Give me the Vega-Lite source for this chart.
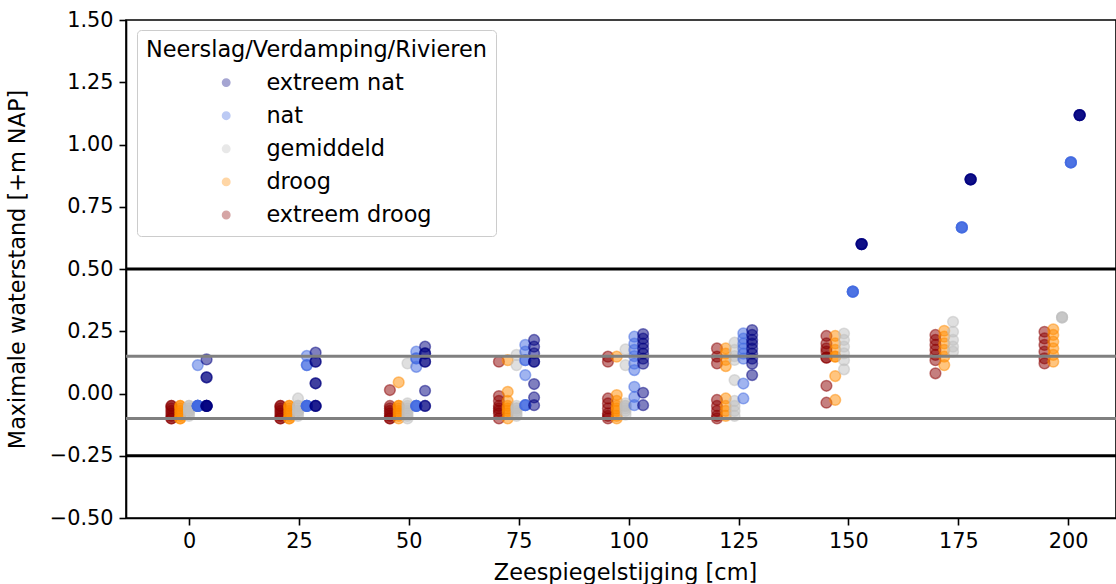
{
  "$schema": "https://vega.github.io/schema/vega-lite/v6.json",
  "autosize": "none",
  "width": 990,
  "height": 498,
  "padding": {"left": 126, "top": 20, "right": 0, "bottom": 66},
  "background": "white",
  "config": {
    "font": "DejaVu Sans",
    "view": {"stroke": "black", "strokeWidth": 1.6},
    "axis": {"labelFont": "DejaVu Sans", "titleFont": "DejaVu Sans", "labelFontSize": 20.8, "titleFontSize": 22.4, "titleFontWeight": "normal", "labelColor": "black", "titleColor": "black", "tickColor": "black", "domainColor": "black", "tickSize": 7, "tickWidth": 1.6, "domainWidth": 1.6, "labelPadding": 6, "grid": false},
    "legend": {"labelFont": "DejaVu Sans", "titleFont": "DejaVu Sans"}
  },
  "datasets": {
    "pts": [
      {"x": -4, "y": -0.05, "c": "extreem droog"}, {"x": -4, "y": -0.06, "c": "extreem droog"}, {"x": -4, "y": -0.07, "c": "extreem droog"}, {"x": -4, "y": -0.08, "c": "extreem droog"}, {"x": -4, "y": -0.09, "c": "extreem droog"}, {"x": -4, "y": -0.1, "c": "extreem droog"}, {"x": -4, "y": -0.05, "c": "extreem droog"}, {"x": -4, "y": -0.1, "c": "extreem droog"},
      {"x": -2, "y": -0.05, "c": "droog"}, {"x": -2, "y": -0.06, "c": "droog"}, {"x": -2, "y": -0.07, "c": "droog"}, {"x": -2, "y": -0.08, "c": "droog"}, {"x": -2, "y": -0.09, "c": "droog"}, {"x": -2, "y": -0.1, "c": "droog"}, {"x": -2, "y": -0.05, "c": "droog"}, {"x": -2, "y": -0.1, "c": "droog"},
      {"x": 0, "y": -0.05, "c": "gemiddeld"}, {"x": 0, "y": -0.06, "c": "gemiddeld"}, {"x": 0, "y": -0.07, "c": "gemiddeld"}, {"x": 0, "y": -0.08, "c": "gemiddeld"}, {"x": 0, "y": -0.09, "c": "gemiddeld"}, {"x": 0, "y": -0.05, "c": "gemiddeld"}, {"x": 0, "y": -0.06, "c": "gemiddeld"}, {"x": 0, "y": -0.07, "c": "gemiddeld"},
      {"x": 2, "y": 0.114, "c": "nat"}, {"x": 2, "y": -0.05, "c": "nat"}, {"x": 2, "y": -0.05, "c": "nat"}, {"x": 2, "y": -0.05, "c": "nat"}, {"x": 2, "y": -0.05, "c": "nat"}, {"x": 2, "y": -0.05, "c": "nat"}, {"x": 2, "y": -0.05, "c": "nat"}, {"x": 2, "y": -0.05, "c": "nat"},
      {"x": 4, "y": 0.137, "c": "extreem nat"}, {"x": 4, "y": 0.065, "c": "extreem nat"}, {"x": 4, "y": 0.065, "c": "extreem nat"}, {"x": 4, "y": -0.05, "c": "extreem nat"}, {"x": 4, "y": -0.05, "c": "extreem nat"}, {"x": 4, "y": -0.05, "c": "extreem nat"}, {"x": 4, "y": -0.05, "c": "extreem nat"}, {"x": 4, "y": -0.05, "c": "extreem nat"},

      {"x": 20.8, "y": -0.05, "c": "extreem droog"}, {"x": 20.8, "y": -0.06, "c": "extreem droog"}, {"x": 20.8, "y": -0.07, "c": "extreem droog"}, {"x": 20.8, "y": -0.08, "c": "extreem droog"}, {"x": 20.8, "y": -0.09, "c": "extreem droog"}, {"x": 20.8, "y": -0.1, "c": "extreem droog"}, {"x": 20.8, "y": -0.05, "c": "extreem droog"}, {"x": 20.8, "y": -0.1, "c": "extreem droog"},
      {"x": 22.8, "y": -0.05, "c": "droog"}, {"x": 22.8, "y": -0.06, "c": "droog"}, {"x": 22.8, "y": -0.07, "c": "droog"}, {"x": 22.8, "y": -0.08, "c": "droog"}, {"x": 22.8, "y": -0.09, "c": "droog"}, {"x": 22.8, "y": -0.1, "c": "droog"}, {"x": 22.8, "y": -0.05, "c": "droog"}, {"x": 22.8, "y": -0.1, "c": "droog"},
      {"x": 24.8, "y": -0.02, "c": "gemiddeld"}, {"x": 24.8, "y": -0.05, "c": "gemiddeld"}, {"x": 24.8, "y": -0.06, "c": "gemiddeld"}, {"x": 24.8, "y": -0.07, "c": "gemiddeld"}, {"x": 24.8, "y": -0.08, "c": "gemiddeld"}, {"x": 24.8, "y": -0.09, "c": "gemiddeld"}, {"x": 24.8, "y": -0.05, "c": "gemiddeld"}, {"x": 24.8, "y": -0.07, "c": "gemiddeld"},
      {"x": 26.8, "y": 0.151, "c": "nat"}, {"x": 26.8, "y": 0.114, "c": "nat"}, {"x": 26.8, "y": 0.114, "c": "nat"}, {"x": 26.8, "y": -0.05, "c": "nat"}, {"x": 26.8, "y": -0.05, "c": "nat"}, {"x": 26.8, "y": -0.05, "c": "nat"}, {"x": 26.8, "y": -0.05, "c": "nat"}, {"x": 26.8, "y": -0.05, "c": "nat"},
      {"x": 28.8, "y": 0.164, "c": "extreem nat"}, {"x": 28.8, "y": 0.128, "c": "extreem nat"}, {"x": 28.8, "y": 0.128, "c": "extreem nat"}, {"x": 28.8, "y": 0.041, "c": "extreem nat"}, {"x": 28.8, "y": 0.041, "c": "extreem nat"}, {"x": 28.8, "y": -0.05, "c": "extreem nat"}, {"x": 28.8, "y": -0.05, "c": "extreem nat"}, {"x": 28.8, "y": -0.05, "c": "extreem nat"},

      {"x": 45.7, "y": 0.014, "c": "extreem droog"}, {"x": 45.7, "y": -0.05, "c": "extreem droog"}, {"x": 45.7, "y": -0.06, "c": "extreem droog"}, {"x": 45.7, "y": -0.07, "c": "extreem droog"}, {"x": 45.7, "y": -0.08, "c": "extreem droog"}, {"x": 45.7, "y": -0.09, "c": "extreem droog"}, {"x": 45.7, "y": -0.1, "c": "extreem droog"}, {"x": 45.7, "y": -0.1, "c": "extreem droog"},
      {"x": 47.7, "y": 0.045, "c": "droog"}, {"x": 47.7, "y": -0.05, "c": "droog"}, {"x": 47.7, "y": -0.06, "c": "droog"}, {"x": 47.7, "y": -0.07, "c": "droog"}, {"x": 47.7, "y": -0.08, "c": "droog"}, {"x": 47.7, "y": -0.09, "c": "droog"}, {"x": 47.7, "y": -0.1, "c": "droog"}, {"x": 47.7, "y": -0.05, "c": "droog"},
      {"x": 49.7, "y": 0.121, "c": "gemiddeld"}, {"x": 49.7, "y": -0.04, "c": "gemiddeld"}, {"x": 49.7, "y": -0.05, "c": "gemiddeld"}, {"x": 49.7, "y": -0.06, "c": "gemiddeld"}, {"x": 49.7, "y": -0.07, "c": "gemiddeld"}, {"x": 49.7, "y": -0.08, "c": "gemiddeld"}, {"x": 49.7, "y": -0.09, "c": "gemiddeld"}, {"x": 49.7, "y": -0.1, "c": "gemiddeld"},
      {"x": 51.7, "y": 0.168, "c": "nat"}, {"x": 51.7, "y": 0.141, "c": "nat"}, {"x": 51.7, "y": 0.141, "c": "nat"}, {"x": 51.7, "y": 0.107, "c": "nat"}, {"x": 51.7, "y": -0.05, "c": "nat"}, {"x": 51.7, "y": -0.05, "c": "nat"}, {"x": 51.7, "y": -0.05, "c": "nat"}, {"x": 51.7, "y": -0.05, "c": "nat"},
      {"x": 53.7, "y": 0.188, "c": "extreem nat"}, {"x": 53.7, "y": 0.161, "c": "extreem nat"}, {"x": 53.7, "y": 0.161, "c": "extreem nat"}, {"x": 53.7, "y": 0.128, "c": "extreem nat"}, {"x": 53.7, "y": 0.128, "c": "extreem nat"}, {"x": 53.7, "y": 0.011, "c": "extreem nat"}, {"x": 53.7, "y": -0.05, "c": "extreem nat"}, {"x": 53.7, "y": -0.05, "c": "extreem nat"},

      {"x": 70.5, "y": 0.128, "c": "extreem droog"}, {"x": 70.5, "y": -0.01, "c": "extreem droog"}, {"x": 70.5, "y": -0.03, "c": "extreem droog"}, {"x": 70.5, "y": -0.05, "c": "extreem droog"}, {"x": 70.5, "y": -0.06, "c": "extreem droog"}, {"x": 70.5, "y": -0.07, "c": "extreem droog"}, {"x": 70.5, "y": -0.08, "c": "extreem droog"}, {"x": 70.5, "y": -0.1, "c": "extreem droog"},
      {"x": 72.5, "y": 0.134, "c": "droog"}, {"x": 72.5, "y": 0.007, "c": "droog"}, {"x": 72.5, "y": -0.03, "c": "droog"}, {"x": 72.5, "y": -0.05, "c": "droog"}, {"x": 72.5, "y": -0.06, "c": "droog"}, {"x": 72.5, "y": -0.07, "c": "droog"}, {"x": 72.5, "y": -0.08, "c": "droog"}, {"x": 72.5, "y": -0.1, "c": "droog"},
      {"x": 74.5, "y": 0.155, "c": "gemiddeld"}, {"x": 74.5, "y": 0.114, "c": "gemiddeld"}, {"x": 74.5, "y": -0.05, "c": "gemiddeld"}, {"x": 74.5, "y": -0.06, "c": "gemiddeld"}, {"x": 74.5, "y": -0.07, "c": "gemiddeld"}, {"x": 74.5, "y": -0.08, "c": "gemiddeld"}, {"x": 74.5, "y": -0.09, "c": "gemiddeld"}, {"x": 74.5, "y": -0.06, "c": "gemiddeld"},
      {"x": 76.5, "y": 0.195, "c": "nat"}, {"x": 76.5, "y": 0.168, "c": "nat"}, {"x": 76.5, "y": 0.134, "c": "nat"}, {"x": 76.5, "y": 0.134, "c": "nat"}, {"x": 76.5, "y": 0.074, "c": "nat"}, {"x": 76.5, "y": -0.047, "c": "nat"}, {"x": 76.5, "y": -0.047, "c": "nat"}, {"x": 76.5, "y": -0.047, "c": "nat"},
      {"x": 78.5, "y": 0.215, "c": "extreem nat"}, {"x": 78.5, "y": 0.188, "c": "extreem nat"}, {"x": 78.5, "y": 0.161, "c": "extreem nat"}, {"x": 78.5, "y": 0.128, "c": "extreem nat"}, {"x": 78.5, "y": 0.128, "c": "extreem nat"}, {"x": 78.5, "y": 0.038, "c": "extreem nat"}, {"x": 78.5, "y": -0.016, "c": "extreem nat"}, {"x": 78.5, "y": -0.047, "c": "extreem nat"},

      {"x": 95.3, "y": 0.148, "c": "extreem droog"}, {"x": 95.3, "y": 0.128, "c": "extreem droog"}, {"x": 95.3, "y": -0.02, "c": "extreem droog"}, {"x": 95.3, "y": -0.04, "c": "extreem droog"}, {"x": 95.3, "y": -0.06, "c": "extreem droog"}, {"x": 95.3, "y": -0.08, "c": "extreem droog"}, {"x": 95.3, "y": -0.1, "c": "extreem droog"}, {"x": 95.3, "y": -0.09, "c": "extreem droog"},
      {"x": 97.3, "y": 0.148, "c": "droog"}, {"x": 97.3, "y": -0.006, "c": "droog"}, {"x": 97.3, "y": -0.03, "c": "droog"}, {"x": 97.3, "y": -0.05, "c": "droog"}, {"x": 97.3, "y": -0.07, "c": "droog"}, {"x": 97.3, "y": -0.09, "c": "droog"}, {"x": 97.3, "y": -0.1, "c": "droog"}, {"x": 97.3, "y": -0.06, "c": "droog"},
      {"x": 99.3, "y": 0.177, "c": "gemiddeld"}, {"x": 99.3, "y": 0.114, "c": "gemiddeld"}, {"x": 99.3, "y": -0.04, "c": "gemiddeld"}, {"x": 99.3, "y": -0.05, "c": "gemiddeld"}, {"x": 99.3, "y": -0.06, "c": "gemiddeld"}, {"x": 99.3, "y": -0.07, "c": "gemiddeld"}, {"x": 99.3, "y": -0.085, "c": "gemiddeld"}, {"x": 99.3, "y": -0.05, "c": "gemiddeld"},
      {"x": 101.3, "y": 0.228, "c": "nat"}, {"x": 101.3, "y": 0.2, "c": "nat"}, {"x": 101.3, "y": 0.175, "c": "nat"}, {"x": 101.3, "y": 0.15, "c": "nat"}, {"x": 101.3, "y": 0.12, "c": "nat"}, {"x": 101.3, "y": 0.094, "c": "nat"}, {"x": 101.3, "y": 0.027, "c": "nat"}, {"x": 101.3, "y": -0.014, "c": "nat"}, {"x": 101.3, "y": -0.047, "c": "nat"},
      {"x": 103.3, "y": 0.239, "c": "extreem nat"}, {"x": 103.3, "y": 0.22, "c": "extreem nat"}, {"x": 103.3, "y": 0.2, "c": "extreem nat"}, {"x": 103.3, "y": 0.18, "c": "extreem nat"}, {"x": 103.3, "y": 0.16, "c": "extreem nat"}, {"x": 103.3, "y": 0.14, "c": "extreem nat"}, {"x": 103.3, "y": 0.12, "c": "extreem nat"}, {"x": 103.3, "y": 0.003, "c": "extreem nat"}, {"x": 103.3, "y": -0.047, "c": "extreem nat"},

      {"x": 120.1, "y": 0.181, "c": "extreem droog"}, {"x": 120.1, "y": 0.148, "c": "extreem droog"}, {"x": 120.1, "y": 0.121, "c": "extreem droog"}, {"x": 120.1, "y": -0.026, "c": "extreem droog"}, {"x": 120.1, "y": -0.05, "c": "extreem droog"}, {"x": 120.1, "y": -0.07, "c": "extreem droog"}, {"x": 120.1, "y": -0.09, "c": "extreem droog"}, {"x": 120.1, "y": -0.1, "c": "extreem droog"},
      {"x": 122.1, "y": 0.181, "c": "droog"}, {"x": 122.1, "y": 0.16, "c": "droog"}, {"x": 122.1, "y": 0.135, "c": "droog"}, {"x": 122.1, "y": 0.11, "c": "droog"}, {"x": 122.1, "y": -0.02, "c": "droog"}, {"x": 122.1, "y": -0.05, "c": "droog"}, {"x": 122.1, "y": -0.07, "c": "droog"}, {"x": 122.1, "y": -0.09, "c": "droog"},
      {"x": 124.1, "y": 0.204, "c": "gemiddeld"}, {"x": 124.1, "y": 0.175, "c": "gemiddeld"}, {"x": 124.1, "y": 0.15, "c": "gemiddeld"}, {"x": 124.1, "y": 0.135, "c": "gemiddeld"}, {"x": 124.1, "y": 0.054, "c": "gemiddeld"}, {"x": 124.1, "y": -0.03, "c": "gemiddeld"}, {"x": 124.1, "y": -0.05, "c": "gemiddeld"}, {"x": 124.1, "y": -0.07, "c": "gemiddeld"}, {"x": 124.1, "y": -0.09, "c": "gemiddeld"},
      {"x": 126.1, "y": 0.242, "c": "nat"}, {"x": 126.1, "y": 0.22, "c": "nat"}, {"x": 126.1, "y": 0.2, "c": "nat"}, {"x": 126.1, "y": 0.18, "c": "nat"}, {"x": 126.1, "y": 0.16, "c": "nat"}, {"x": 126.1, "y": 0.14, "c": "nat"}, {"x": 126.1, "y": 0.04, "c": "nat"}, {"x": 126.1, "y": -0.02, "c": "nat"},
      {"x": 128.1, "y": 0.255, "c": "extreem nat"}, {"x": 128.1, "y": 0.235, "c": "extreem nat"}, {"x": 128.1, "y": 0.215, "c": "extreem nat"}, {"x": 128.1, "y": 0.2, "c": "extreem nat"}, {"x": 128.1, "y": 0.18, "c": "extreem nat"}, {"x": 128.1, "y": 0.16, "c": "extreem nat"}, {"x": 128.1, "y": 0.14, "c": "extreem nat"}, {"x": 128.1, "y": 0.12, "c": "extreem nat"}, {"x": 128.1, "y": 0.074, "c": "extreem nat"},

      {"x": 145.0, "y": 0.231, "c": "extreem droog"}, {"x": 145.0, "y": 0.201, "c": "extreem droog"}, {"x": 145.0, "y": 0.181, "c": "extreem droog"}, {"x": 145.0, "y": 0.168, "c": "extreem droog"}, {"x": 145.0, "y": 0.144, "c": "extreem droog"}, {"x": 145.0, "y": 0.144, "c": "extreem droog"}, {"x": 145.0, "y": 0.031, "c": "extreem droog"}, {"x": 145.0, "y": -0.037, "c": "extreem droog"},
      {"x": 147.0, "y": 0.231, "c": "droog"}, {"x": 147.0, "y": 0.201, "c": "droog"}, {"x": 147.0, "y": 0.175, "c": "droog"}, {"x": 147.0, "y": 0.148, "c": "droog"}, {"x": 147.0, "y": 0.148, "c": "droog"}, {"x": 147.0, "y": 0.07, "c": "droog"}, {"x": 147.0, "y": -0.026, "c": "droog"},
      {"x": 149.0, "y": 0.241, "c": "gemiddeld"}, {"x": 149.0, "y": 0.215, "c": "gemiddeld"}, {"x": 149.0, "y": 0.188, "c": "gemiddeld"}, {"x": 149.0, "y": 0.161, "c": "gemiddeld"}, {"x": 149.0, "y": 0.134, "c": "gemiddeld"}, {"x": 149.0, "y": 0.097, "c": "gemiddeld"},
      {"x": 151.0, "y": 0.409, "c": "nat"}, {"x": 151.0, "y": 0.409, "c": "nat"}, {"x": 151.0, "y": 0.409, "c": "nat"}, {"x": 151.0, "y": 0.409, "c": "nat"},
      {"x": 153.0, "y": 0.6, "c": "extreem nat"}, {"x": 153.0, "y": 0.6, "c": "extreem nat"}, {"x": 153.0, "y": 0.6, "c": "extreem nat"}, {"x": 153.0, "y": 0.6, "c": "extreem nat"},

      {"x": 169.8, "y": 0.235, "c": "extreem droog"}, {"x": 169.8, "y": 0.215, "c": "extreem droog"}, {"x": 169.8, "y": 0.195, "c": "extreem droog"}, {"x": 169.8, "y": 0.175, "c": "extreem droog"}, {"x": 169.8, "y": 0.155, "c": "extreem droog"}, {"x": 169.8, "y": 0.134, "c": "extreem droog"}, {"x": 169.8, "y": 0.081, "c": "extreem droog"},
      {"x": 171.8, "y": 0.252, "c": "droog"}, {"x": 171.8, "y": 0.228, "c": "droog"}, {"x": 171.8, "y": 0.201, "c": "droog"}, {"x": 171.8, "y": 0.175, "c": "droog"}, {"x": 171.8, "y": 0.148, "c": "droog"}, {"x": 171.8, "y": 0.114, "c": "droog"},
      {"x": 173.8, "y": 0.288, "c": "gemiddeld"}, {"x": 173.8, "y": 0.248, "c": "gemiddeld"}, {"x": 173.8, "y": 0.215, "c": "gemiddeld"}, {"x": 173.8, "y": 0.188, "c": "gemiddeld"}, {"x": 173.8, "y": 0.168, "c": "gemiddeld"},
      {"x": 175.8, "y": 0.667, "c": "nat"}, {"x": 175.8, "y": 0.667, "c": "nat"}, {"x": 175.8, "y": 0.667, "c": "nat"}, {"x": 175.8, "y": 0.667, "c": "nat"},
      {"x": 177.8, "y": 0.86, "c": "extreem nat"}, {"x": 177.8, "y": 0.86, "c": "extreem nat"}, {"x": 177.8, "y": 0.86, "c": "extreem nat"}, {"x": 177.8, "y": 0.86, "c": "extreem nat"},

      {"x": 194.6, "y": 0.248, "c": "extreem droog"}, {"x": 194.6, "y": 0.221, "c": "extreem droog"}, {"x": 194.6, "y": 0.195, "c": "extreem droog"}, {"x": 194.6, "y": 0.168, "c": "extreem droog"}, {"x": 194.6, "y": 0.141, "c": "extreem droog"}, {"x": 194.6, "y": 0.121, "c": "extreem droog"},
      {"x": 196.6, "y": 0.258, "c": "droog"}, {"x": 196.6, "y": 0.235, "c": "droog"}, {"x": 196.6, "y": 0.208, "c": "droog"}, {"x": 196.6, "y": 0.181, "c": "droog"}, {"x": 196.6, "y": 0.155, "c": "droog"}, {"x": 196.6, "y": 0.128, "c": "droog"},
      {"x": 198.6, "y": 0.306, "c": "gemiddeld"}, {"x": 198.6, "y": 0.306, "c": "gemiddeld"}, {"x": 198.6, "y": 0.306, "c": "gemiddeld"},
      {"x": 200.6, "y": 0.928, "c": "nat"}, {"x": 200.6, "y": 0.928, "c": "nat"}, {"x": 200.6, "y": 0.928, "c": "nat"}, {"x": 200.6, "y": 0.928, "c": "nat"},
      {"x": 202.6, "y": 1.118, "c": "extreem nat"}, {"x": 202.6, "y": 1.118, "c": "extreem nat"}, {"x": 202.6, "y": 1.118, "c": "extreem nat"}, {"x": 202.6, "y": 1.118, "c": "extreem nat"}
    ],
    "blackLines": [{"h": 0.5}, {"h": -0.25}],
    "greyLines": [{"h": 0.15}, {"h": -0.1}]
  },
  "layer": [
    {
      "data": {"name": "pts"},
      "mark": {"type": "point", "filled": true, "size": 115, "fillOpacity": 0.5, "strokeOpacity": 0.5, "strokeWidth": 1.5},
      "encoding": {
        "x": {"field": "x", "type": "quantitative", "scale": {"domain": [-14.33, 210.87], "nice": false, "zero": false},
          "axis": {"values": [0, 25, 50, 75, 100, 125, 150, 175, 200], "title": "Zeespiegelstijging [cm]", "titlePadding": 11, "titleX": 499}},
        "y": {"field": "y", "type": "quantitative", "scale": {"domain": [-0.5, 1.5], "nice": false, "zero": false},
          "axis": {"values": [-0.5, -0.25, 0, 0.25, 0.5, 0.75, 1, 1.25, 1.5], "format": ".2f", "title": "Maximale waterstand [+m NAP]", "titlePadding": 20}},
        "fill": {"field": "c", "type": "nominal",
          "scale": {"domain": ["extreem nat", "nat", "gemiddeld", "droog", "extreem droog"], "range": ["#000080", "#4169e1", "#c0c0c0", "#ff8c00", "#8b0000"]},
          "legend": {"title": "Neerslag/Verdamping/Rivieren", "orient": "none", "legendX": 11, "legendY": 10, "padding": 9,
            "fillColor": "rgba(255,255,255,0.8)", "strokeColor": "#cccccc", "cornerRadius": 4,
            "titleFontSize": 22.4, "titleFontWeight": "normal", "titleColor": "black", "titlePadding": 10, "titleLimit": 600,
            "labelFontSize": 22.4, "labelColor": "black", "labelOffset": 29, "rowPadding": 10.1, "labelLimit": 400,
            "symbolType": "circle", "symbolSize": 55, "symbolOpacity": 0.35, "symbolStrokeWidth": 1.5, "symbolOffset": 69}},
        "stroke": {"field": "c", "type": "nominal",
          "scale": {"domain": ["extreem nat", "nat", "gemiddeld", "droog", "extreem droog"], "range": ["#000080", "#4169e1", "#c0c0c0", "#ff8c00", "#8b0000"]},
          "legend": {"title": "Neerslag/Verdamping/Rivieren", "orient": "none", "legendX": 11, "legendY": 10, "padding": 9,
            "fillColor": "rgba(255,255,255,0.8)", "strokeColor": "#cccccc", "cornerRadius": 4,
            "titleFontSize": 22.4, "titleFontWeight": "normal", "titleColor": "black", "titlePadding": 10, "titleLimit": 600,
            "labelFontSize": 22.4, "labelColor": "black", "labelOffset": 29, "rowPadding": 10.1, "labelLimit": 400,
            "symbolType": "circle", "symbolSize": 55, "symbolOpacity": 0.35, "symbolStrokeWidth": 1.5, "symbolOffset": 69}}
      }
    },
    {
      "data": {"name": "greyLines"},
      "mark": {"type": "rule", "color": "#808080", "strokeWidth": 3},
      "encoding": {"y": {"field": "h", "type": "quantitative"}}
    },
    {
      "data": {"name": "blackLines"},
      "mark": {"type": "rule", "color": "black", "strokeWidth": 3},
      "encoding": {"y": {"field": "h", "type": "quantitative"}}
    }
  ]
}
